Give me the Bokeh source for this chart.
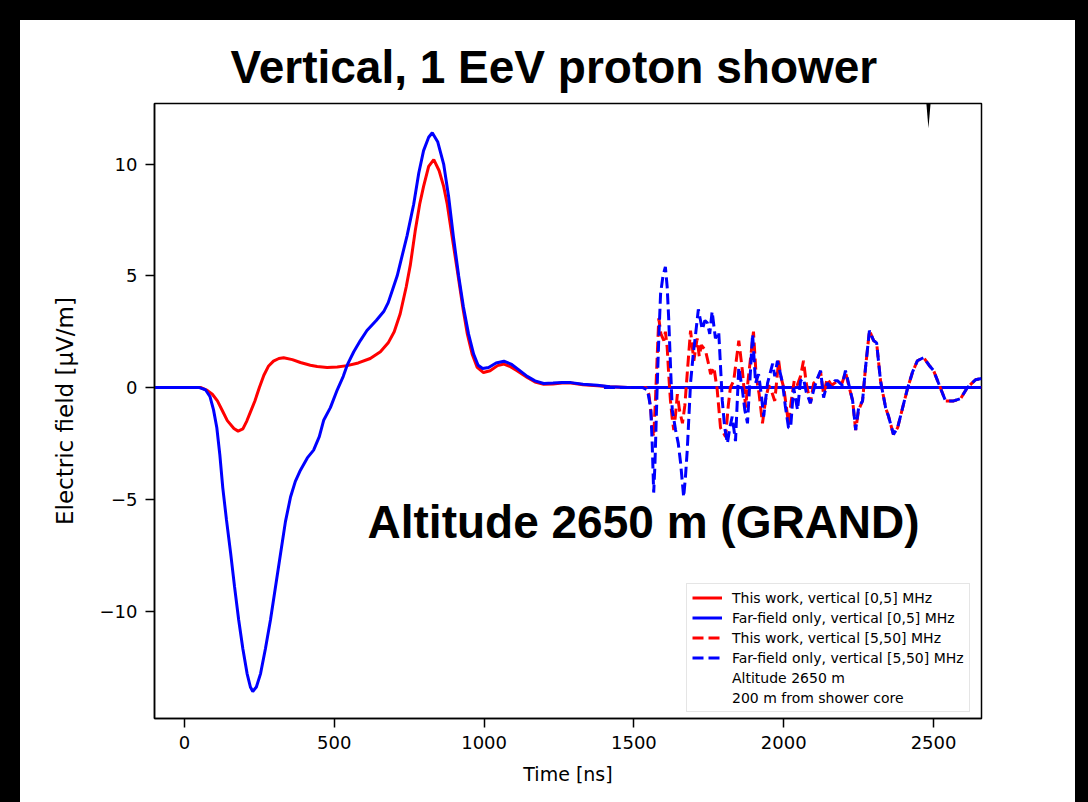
from bokeh.plotting import figure
from bokeh.models import (Legend, LegendItem, FixedTicker, Label, PolyAnnotation,
                          Div, Range1d)
from bokeh.layouts import row, column
from bokeh.embed import file_html
from bokeh.resources import INLINE

# ---------------- data ----------------
t_red = [-100, 0, 55, 76, 93, 110, 127, 143, 165, 179, 195, 208, 220, 235, 250, 265, 280,
         297, 315, 331, 360, 387, 420, 443, 476, 510, 543, 580, 620, 654, 680, 700, 720, 740,
         754, 770, 785, 798, 815, 832, 850, 865, 877, 895, 911, 930, 944, 960, 977, 998,
         1020, 1045, 1066, 1085, 1110, 1144, 1170, 1199, 1230, 1260, 1290, 1330, 1378,
         1420, 1480, 2660]
e_red = [0, 0, 0, -0.13, -0.3, -0.6, -1.05, -1.48, -1.83, -1.95, -1.85, -1.5, -1.1, -0.6,
         0.0, 0.55, 0.95, 1.18, 1.3, 1.33, 1.25, 1.12, 1.0, 0.94, 0.9, 0.92, 0.98, 1.1, 1.3,
         1.6, 2.0, 2.5, 3.3, 4.5, 5.5, 7.0, 8.2, 9.0, 9.9, 10.2, 9.7, 9.0, 8.2, 6.6, 5.2,
         3.5, 2.4, 1.5, 0.9, 0.67, 0.75, 0.98, 1.05, 0.95, 0.75, 0.45, 0.25, 0.15, 0.16,
         0.2, 0.2, 0.12, 0.08, 0.03, 0, 0]

t_blue = [-100, 0, 50, 70, 85, 97, 108, 118, 128, 140, 154, 167, 181, 195, 209, 220, 228,
          240, 254, 270, 287, 304, 321, 337, 354, 370, 387, 410, 431, 450, 465, 487, 510,
          530, 543, 565, 587, 609, 640, 665, 680, 695, 710, 721, 743, 765, 782, 798, 815,
          827, 845, 865, 882, 898, 915, 931, 948, 965, 980, 995, 1015, 1040, 1066, 1090,
          1115, 1144, 1170, 1199, 1230, 1260, 1290, 1330, 1378, 1420, 1480, 2660]
e_blue = [0, 0, 0, -0.1, -0.4, -1.0, -1.8, -3.0, -4.5, -5.9, -7.4, -8.9, -10.4, -11.7,
          -12.8, -13.4, -13.6, -13.4, -12.8, -11.7, -10.4, -8.9, -7.4, -6.0, -4.9, -4.2,
          -3.7, -3.15, -2.8, -2.2, -1.45, -0.9, -0.1, 0.5, 1.0, 1.6, 2.1, 2.55, 3.0, 3.4,
          3.8, 4.4, 5.0, 5.6, 6.8, 8.2, 9.6, 10.6, 11.2, 11.4, 11.0, 10.0, 8.5, 6.7, 5.0,
          3.6, 2.4, 1.5, 1.0, 0.85, 0.9, 1.1, 1.18, 1.05, 0.8, 0.5, 0.3, 0.18, 0.2, 0.22,
          0.22, 0.15, 0.1, 0.04, 0, 0]

t_red_hf = [1400, 1540, 1550, 1556, 1562, 1566, 1572, 1578, 1583, 1590, 1600, 1605, 1611,
            1616, 1622, 1628, 1633, 1639, 1645, 1652, 1662, 1670, 1680, 1689, 1695, 1700,
            1711, 1718, 1725, 1739, 1750, 1756, 1767, 1778, 1789, 1806, 1815, 1822, 1833,
            1850, 1862, 1873, 1880, 1890, 1899, 1908, 1918, 1929, 1940, 1950, 1960, 1970,
            1983, 1990, 2000, 2008, 2016, 2025, 2035, 2045, 2056, 2066, 2075, 2089, 2100,
            2110, 2123, 2133, 2145, 2160, 2180, 2195, 2206, 2215, 2230, 2240, 2250, 2263,
            2273, 2286, 2300, 2310, 2323, 2340, 2350, 2366, 2380, 2395, 2413, 2430, 2446,
            2467, 2485, 2500, 2517, 2540, 2567, 2590, 2613, 2640, 2660]
e_red_hf = [0, 0, -0.3, -1.0, -1.9, -2.2, -0.5, 1.5, 3.1, 2.4, 2.1, 2.5, 1.8, 0.6, -0.6,
            -1.4, -1.9, -1.2, -0.3, -1.0, -1.6, -0.8, 1.0, 2.55, 1.8, 1.2, 2.2, 1.4, 1.9,
            1.65, 1.0, 0.6, 0.9, -0.1, -1.8, -2.2, -0.8, 0.0, 0.3, 2.1, 0.76, -0.9, 0.2,
            1.4, 2.5, 0.5, -0.3, -1.6, -0.5, 0.1, -0.2, -0.6, 1.2, 0.5, 0.0, -0.8, -1.6,
            -0.6, 0.3, 0.1, 0.5, 1.2, 0.2, -0.7, 0.2, 0.3, 0.7, -0.3, 0.4, 0.1, 0.3, 0.2,
            0.7, 0.2, -0.6, -1.9, -1.0, -0.6, 0.9, 2.55, 2.1, 2.0, 0.3, -0.9, -1.3, -2.1,
            -1.8, -1.0, -0.05, 0.7, 1.2, 1.34, 1.0, 0.76, 0.18, -0.6, -0.6, -0.5, 0.0, 0.35,
            0.4]

t_blue_hf = [1400, 1530, 1545, 1556, 1561, 1566, 1570, 1575, 1578, 1583, 1589, 1597, 1605,
             1611, 1616, 1622, 1628, 1639, 1648, 1656, 1666, 1672, 1678, 1689, 1698, 1706,
             1715, 1728, 1737, 1745, 1753, 1761, 1772, 1783, 1795, 1803, 1812, 1820, 1828,
             1839, 1850, 1862, 1870, 1879, 1890, 1896, 1906, 1916, 1925, 1933, 1946, 1963,
             1970, 1979, 1996, 2005, 2016, 2023, 2033, 2046, 2056, 2066, 2075, 2089, 2100,
             2112, 2123, 2133, 2145, 2160, 2170, 2180, 2195, 2206, 2218, 2230, 2240, 2250,
             2263, 2273, 2286, 2300, 2310, 2323, 2340, 2350, 2366, 2380, 2395, 2413, 2430,
             2446, 2467, 2485, 2500, 2517, 2540, 2567, 2590, 2613, 2640, 2660]
e_blue_hf = [0, 0, -0.1, -0.9, -2.5, -4.7, -3.5, -1.2, 0.2, 2.2, 4.2, 5.0, 5.4, 4.5, 3.1,
             1.0, -1.0, -1.9, -2.5, -3.4, -4.9, -4.0, -2.8, 0.2, 1.5, 2.4, 3.5, 2.6, 3.0,
             2.9, 2.4, 3.4, 2.2, 2.5, -0.6, -1.8, -2.5, -1.8, -1.3, -2.4, 0.9, -0.1, -1.0,
             -1.6, 1.0, 2.4, 0.2, 0.6, -0.3, -1.3, 0.2, 1.07, 0.5, 1.2, 0.2, -0.8, -1.8,
             -1.8, 0.0, -1.0, 0.3, 0.4, -0.2, -0.7, -0.1, 0.4, 0.76, -0.45, 0.2, 0.0, 0.3,
             0.3, 0.1, 0.76, 0.1, -0.6, -1.9, -0.9, -0.6, 0.9, 2.55, 2.1, 2.0, 0.3, -0.9,
             -1.3, -2.1, -1.8, -1.0, -0.05, 0.7, 1.2, 1.34, 1.0, 0.76, 0.18, -0.6, -0.6,
             -0.5, 0.0, 0.35, 0.4]

x_ticks = [0, 500, 1000, 1500, 2000, 2500]
y_ticks = [-10, -5, 0, 5, 10]
legend_labels = ["This work, vertical [0,5] MHz",
                 "Far-field only, vertical [0,5] MHz",
                 "This work, vertical [5,50] MHz",
                 "Far-field only, vertical [5,50] MHz",
                 "Altitude 2650 m",
                 "200 m from shower core"]
title_text = "Vertical, 1 EeV proton shower"
overlay_text = "Altitude 2650 m (GRAND)"

# ---------------- figure ----------------
p = figure(frame_width=827, frame_height=615,
           min_border_left=134, min_border_right=94, min_border_top=83, min_border_bottom=84,
           x_range=Range1d(-100, 2660), y_range=Range1d(-14.81, 12.71),
           output_backend="svg", toolbar_location=None,
           background_fill_color="white", border_fill_color="white")
p.margin = 0

p.title.text = title_text
p.title.text_font = "Liberation Sans"
p.title.text_font_size = "46px"
p.title.text_font_style = "bold"
p.title.align = "left"
p.title.offset = 76
p.title.standoff = 21
p.title.text_color = "black"

p.xgrid.visible = False
p.ygrid.visible = False
p.outline_line_color = "black"
p.outline_line_width = 1.5

for ax in (p.xaxis[0], p.yaxis[0]):
    ax.axis_line_color = "black"
    ax.axis_line_width = 1.5
    ax.major_tick_line_color = "black"
    ax.major_tick_line_width = 1.5
    ax.major_tick_out = 9
    ax.major_tick_in = 0
    ax.minor_tick_line_color = None
    ax.major_label_text_font = "DejaVu Sans"
    ax.major_label_text_font_size = "18px"
    ax.major_label_text_color = "black"
    ax.major_label_standoff = 8
    ax.axis_label_text_font = "DejaVu Sans"
    ax.axis_label_text_font_style = "normal"
    ax.axis_label_text_color = "black"

p.xaxis.ticker = FixedTicker(ticks=x_ticks)
p.yaxis.ticker = FixedTicker(ticks=y_ticks)
p.yaxis.major_label_overrides = {v: (("\u2212" + str(abs(v))) if v < 0 else str(v)) for v in y_ticks}
p.xaxis.axis_label = "Time [ns]"
p.xaxis.axis_label_text_font_size = "19px"
p.xaxis.axis_label_standoff = 11
p.yaxis.axis_label = "Electric field [\u03bcV/m]"
p.yaxis.axis_label_text_font_size = "23px"
p.yaxis.axis_label_standoff = 19

r1 = p.line(t_red, e_red, line_color="#ff0000", line_width=3)
r2 = p.line(t_blue, e_blue, line_color="#0000ff", line_width=3)
r3 = p.line(t_red_hf, e_red_hf, line_color="#ff0000", line_width=3, line_dash="11 5")
r4 = p.line(t_blue_hf, e_blue_hf, line_color="#0000ff", line_width=3, line_dash="11 5")
r5 = p.line([], [], line_alpha=0)
r6 = p.line([], [], line_alpha=0)

legend = Legend(items=[LegendItem(label=lab, renderers=[r]) for lab, r in
                       zip(legend_labels, [r1, r2, r3, r4, r5, r6])],
                location=(532, 6), orientation="vertical",
                label_text_font="DejaVu Sans", label_text_font_size="14px",
                label_text_color="black",
                glyph_width=30, glyph_height=17, label_height=17, spacing=3,
                label_standoff=10, padding=5, margin=0,
                border_line_color="#cccccc", border_line_width=1,
                background_fill_color="white", background_fill_alpha=0.85)
p.add_layout(legend, "center")

p.add_layout(Label(x=611, y=-6.0, text=overlay_text, text_font="Liberation Sans",
                   text_font_size="46px", text_font_style="bold", text_color="black",
                   text_baseline="alphabetic"))

# small black wedge hanging from the top frame (artifact of the picture)
p.add_layout(PolyAnnotation(xs=[2476, 2490, 2483], ys=[12.71, 12.71, 11.6],
                            fill_color="black", fill_alpha=1.0, line_color=None))

left = Div(width=20, height=802, margin=0, styles={"background-color": "black"})
top = Div(width=1055, height=20, margin=0, styles={"background-color": "black"})
right = Div(width=13, height=802, margin=0, styles={"background-color": "black"})
layout = row(left, column(top, p, spacing=0, margin=0), right, spacing=0, margin=0)

open("out.html", "w").write(file_html(layout, INLINE))
